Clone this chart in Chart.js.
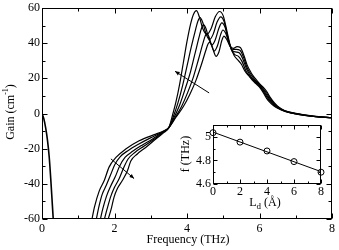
<!DOCTYPE html>
<html>
<head>
<meta charset="utf-8">
<script src="https://cdn.jsdelivr.net/npm/chart.js@4.4.1/dist/chart.umd.min.js"></script>
<style>
  body { margin: 0; background: #fff; }
  #wrap { position: relative; width: 339px; height: 250px; }
  #main { position: absolute; left: 0; top: 0; }
  #inset { position: absolute; left: 176px; top: 116px; }
</style>
</head>
<body>
<div id="wrap">
  <canvas id="main" width="339" height="250"></canvas>
  <canvas id="inset" width="160" height="100"></canvas>
</div>
<script>
// main panel: gain spectra for five values of L_d
const freqTicks = [0, 2, 4, 6, 8];
const freqMinor = [1, 3, 5, 7];
const gainTicks = [-60, -40, -20, 0, 20, 40, 60];
const gainMinor = [-50, -30, -10, 10, 30, 50];

// low-frequency branch, same for all curves
const lowBranch = [[0,0],[0.05,-3],[0.1,-8],[0.15,-15],[0.2,-25],[0.25,-40],[0.28,-50],[0.31,-60],[0.32,-63]];

// curves ordered from the highest first peak to the lowest
const gain0 = [[1.81,-61],[1.9,-55],[1.99,-47.4],[2.08,-42.7],[2.22,-38],[2.36,-32.4],[2.45,-27],[2.63,-23],[2.86,-19.3],[3.14,-14.5],[3.35,-11],
  [3.5,-8],[3.6,-1],[3.7,7],[3.8,17],[3.9,29],[4.0,41],[4.1,51],[4.18,56.5],[4.26,58.5],[4.34,55],[4.44,48],[4.55,45],[4.66,48],[4.78,55],[4.9,58],[5.0,55.5],
  [5.1,47],[5.2,38],[5.3,33],[5.4,30.5],[5.5,28],[5.6,24],[5.7,21.5],[5.8,19],[5.9,17],[6.0,15],[6.1,12],[6.2,8.5],[6.3,6],[6.4,4.3],[6.5,3],[6.7,1.2],[7.0,-0.3],[7.5,-1.7],[8.0,-2.4]];
const gain1 = [[1.71,-61],[1.8,-54],[1.9,-47],[2.0,-42],[2.13,-37],[2.25,-31],[2.37,-26],[2.57,-22],[2.82,-18.5],[3.1,-14.5],[3.33,-11],
  [3.5,-8],[3.62,-2],[3.75,6],[3.88,16],[4.0,27],[4.12,38],[4.24,48],[4.3,52.5],[4.36,54.5],[4.43,52],[4.53,45],[4.62,42],[4.72,45],[4.83,52],[4.93,55],[5.02,52.5],
  [5.12,44],[5.22,36.5],[5.32,33.5],[5.42,32.5],[5.52,29.5],[5.62,24.5],[5.7,22],[5.8,19.5],[5.9,17.5],[6.0,15.5],[6.1,12.8],[6.2,9.5],[6.3,6.8],[6.4,4.8],[6.5,3.3],[6.7,1.3],[7.0,-0.2],[7.5,-1.7],[8.0,-2.4]];
const gain2 = [[1.6,-61],[1.68,-54],[1.78,-47],[1.89,-41.5],[2.02,-36],[2.14,-30],[2.29,-25],[2.5,-21.5],[2.76,-18],[3.05,-14.5],[3.3,-11],
  [3.5,-8],[3.65,-2],[3.8,5],[3.95,14],[4.1,24],[4.22,34],[4.34,44],[4.4,48.5],[4.45,50.5],[4.52,48.5],[4.61,42],[4.69,39],[4.78,42],[4.88,48.5],[4.96,51.5],[5.05,49],
  [5.14,42],[5.24,36],[5.34,35],[5.44,34.5],[5.54,31],[5.64,25.5],[5.72,22.5],[5.8,20],[5.9,18],[6.0,16],[6.1,13.5],[6.2,10.5],[6.3,7.5],[6.4,5.3],[6.5,3.6],[6.7,1.4],[7.0,-0.1],[7.5,-1.6],[8.0,-2.4]];
const gain3 = [[1.49,-61],[1.57,-53],[1.66,-46],[1.77,-41],[1.89,-35],[2.01,-29],[2.16,-24.5],[2.38,-21],[2.66,-17.5],[2.98,-14],[3.28,-11],
  [3.5,-8],[3.68,-2],[3.85,4],[4.02,12],[4.18,21],[4.32,31],[4.44,40],[4.5,44],[4.54,45.5],[4.6,44],[4.68,38.5],[4.75,35.5],[4.84,38.5],[4.93,45],[4.99,47.5],[5.07,45.5],
  [5.16,40],[5.26,36.5],[5.36,36.5],[5.46,36],[5.56,32],[5.65,26.5],[5.74,23],[5.82,20.5],[5.9,18.5],[6.0,16.5],[6.1,14.2],[6.2,11.5],[6.3,8.3],[6.4,5.8],[6.5,3.9],[6.7,1.5],[7.0,0],[7.5,-1.6],[8.0,-2.4]];
const gain4 = [[1.37,-61],[1.45,-53],[1.58,-44],[1.72,-38],[1.85,-30.5],[2.04,-25],[2.31,-20.2],[2.68,-15.5],[3.14,-11.7],[3.35,-10],
  [3.5,-8],[3.7,-2],[3.9,4],[4.08,11],[4.25,19],[4.4,28],[4.52,36],[4.58,39.5],[4.62,40.5],[4.68,39],[4.75,34.5],[4.8,32.5],[4.88,35],[4.96,41.5],[5.02,44],
  [5.1,42],[5.18,38.5],[5.28,37],[5.38,38],[5.47,37.5],[5.57,33],[5.66,27.5],[5.76,23.5],[5.84,21],[5.92,19],[6.0,17],[6.1,15],[6.2,12.5],[6.3,9],[6.4,6.3],[6.5,4.2],[6.7,1.6],[7.0,0.1],[7.5,-1.5],[8.0,-2.4]];

// arrows (tail -> head), in data units
const arrowUp = [[4.61, 11.7], [3.67, 24]];
const arrowDown = [[1.9, -25.8], [2.54, -37]];

// inset: peak frequency vs L_d
const ldValues = [0, 2, 4, 6, 8];
const peakFreq = [5.035, 4.955, 4.88, 4.79, 4.70];
const fitLd = [0, 8];
const fitFreq = [5.04, 4.705];
const ldTicks = [0, 2, 4, 6, 8];
const ldMinor = [1, 3, 5, 7];
const fTicks = [4.6, 4.8, 5.0];
const fMinor = [4.7, 4.9, 5.1];

const serif = "'Liberation Serif', 'DejaVu Serif', serif";
const pts = arr => arr.map(p => ({ x: p[0], y: p[1] }));

const frameTicks = {
  id: "frameTicks",
  afterDraw(chart, args, o) {
    const { ctx, chartArea: a, scales } = chart;
    const L = Math.round(a.left) + 0.5, R = Math.round(a.right) - 0.5;
    const T = Math.round(a.top) + 0.5, B = Math.round(a.bottom) - 0.5;
    ctx.save();
    ctx.strokeStyle = "#000";
    ctx.lineWidth = 1;
    ctx.strokeRect(L, T, R - L, B - T);
    ctx.beginPath();
    const xt = (vals, len) => vals.forEach(v => {
      const px = Math.round(scales.x.getPixelForValue(v)) + 0.5;
      ctx.moveTo(px, B); ctx.lineTo(px, B - len);
      ctx.moveTo(px, T); ctx.lineTo(px, T + len);
    });
    const yt = (vals, len) => vals.forEach(v => {
      const py = Math.round(scales.y.getPixelForValue(v)) + 0.5;
      ctx.moveTo(L, py); ctx.lineTo(L + len, py);
      ctx.moveTo(R, py); ctx.lineTo(R - len, py);
    });
    xt(o.xMajor, o.major); xt(o.xMinor, o.minor);
    yt(o.yMajor, o.major); yt(o.yMinor, o.minor);
    ctx.stroke();
    ctx.restore();
  }
};

// draws label runs: [text, sizePx, dy]
function drawRuns(ctx, runs, cx, cy, rotate) {
  ctx.save();
  ctx.translate(cx, cy);
  if (rotate) ctx.rotate(-Math.PI / 2);
  ctx.fillStyle = "#000";
  ctx.textBaseline = "middle";
  ctx.textAlign = "left";
  let total = 0;
  runs.forEach(r => { ctx.font = r[1] + "px " + serif; total += ctx.measureText(r[0]).width; });
  let x = -total / 2;
  runs.forEach(r => {
    ctx.font = r[1] + "px " + serif;
    ctx.fillText(r[0], x, r[2]);
    x += ctx.measureText(r[0]).width;
  });
  ctx.restore();
}

const mainTitles = {
  id: "mainTitles",
  afterDraw(chart) {
    const ctx = chart.ctx;
    drawRuns(ctx, [["Frequency (THz)", 12, 0]], 188, 240, false);
    drawRuns(ctx, [["Gain (cm", 12, 0], ["-1", 8, -5], [")", 12, 0]], 11, 112, true);
    // arrows
    const { x, y } = chart.scales;
    [arrowUp, arrowDown].forEach(ar => {
      const x0 = x.getPixelForValue(ar[0][0]), y0 = y.getPixelForValue(ar[0][1]);
      const x1 = x.getPixelForValue(ar[1][0]), y1 = y.getPixelForValue(ar[1][1]);
      const ang = Math.atan2(y1 - y0, x1 - x0);
      ctx.save();
      ctx.strokeStyle = "#000"; ctx.fillStyle = "#000"; ctx.lineWidth = 1;
      ctx.beginPath(); ctx.moveTo(x0, y0); ctx.lineTo(x1, y1); ctx.stroke();
      ctx.beginPath();
      ctx.moveTo(x1, y1);
      ctx.lineTo(x1 - 5 * Math.cos(ang - 0.4), y1 - 5 * Math.sin(ang - 0.4));
      ctx.lineTo(x1 - 5 * Math.cos(ang + 0.4), y1 - 5 * Math.sin(ang + 0.4));
      ctx.closePath(); ctx.fill();
      ctx.restore();
    });
  }
};

const insetTitles = {
  id: "insetTitles",
  beforeDatasetsDraw(chart) {
    const { ctx, chartArea: a } = chart;
    ctx.save();
    ctx.fillStyle = "#fff";
    ctx.fillRect(a.left, a.top, a.right - a.left, a.bottom - a.top);
    ctx.restore();
  },
  afterDraw(chart) {
    const ctx = chart.ctx;
    drawRuns(ctx, [["L", 12, 0], ["d", 9, 4], [" (Å)", 12, 0]], 89, 87, false);
    drawRuns(ctx, [["f (THz)", 12, 0]], 9.5, 38, true);
  }
};

const lineStyle = { showLine: true, pointRadius: 0, borderColor: "#000", borderWidth: 1.2, cubicInterpolationMode: "monotone", fill: false };
const tickFont = { family: serif, size: 12, lineHeight: 1 };
const noGrid = { display: false, drawTicks: false, tickLength: 0 };

new Chart(document.getElementById("main"), {
  type: "scatter",
  data: {
    datasets: [
      { ...lineStyle, data: pts(lowBranch), borderWidth: 1.6 },
      { ...lineStyle, data: pts(gain0) },
      { ...lineStyle, data: pts(gain1) },
      { ...lineStyle, data: pts(gain2) },
      { ...lineStyle, data: pts(gain3) },
      { ...lineStyle, data: pts(gain4) }
    ]
  },
  options: {
    responsive: false,
    animation: false,
    layout: { padding: { left: 0, right: 6, top: 6, bottom: 0 } },
    plugins: {
      legend: { display: false },
      tooltip: { enabled: false },
      frameTicks: { xMajor: freqTicks, xMinor: freqMinor, yMajor: gainTicks, yMinor: gainMinor, major: 5, minor: 3 }
    },
    scales: {
      x: {
        type: "linear", min: 0, max: 8,
        afterBuildTicks: s => { s.ticks = freqTicks.map(v => ({ value: v })); },
        afterFit: s => { s.height = 31; },
        grid: noGrid, border: { display: false },
        ticks: { font: tickFont, color: "#000", padding: 4, maxRotation: 0 }
      },
      y: {
        type: "linear", min: -60, max: 60,
        afterBuildTicks: s => { s.ticks = gainTicks.map(v => ({ value: v })); },
        afterFit: s => { s.width = 42; },
        grid: noGrid, border: { display: false },
        ticks: { font: tickFont, color: "#000", padding: 2 }
      }
    }
  },
  plugins: [frameTicks, mainTitles]
});

new Chart(document.getElementById("inset"), {
  type: "scatter",
  data: {
    datasets: [
      { data: fitLd.map((v, i) => ({ x: v, y: fitFreq[i] })), showLine: true, pointRadius: 0, borderColor: "#000", borderWidth: 1 },
      { data: ldValues.map((v, i) => ({ x: v, y: peakFreq[i] })), showLine: false, pointRadius: 3, pointBorderWidth: 1,
        pointBorderColor: "#000", pointBackgroundColor: "rgba(0,0,0,0)", clip: false }
    ]
  },
  options: {
    responsive: false,
    animation: false,
    layout: { padding: { left: 0, right: 15, top: 9, bottom: 0 } },
    plugins: {
      legend: { display: false },
      tooltip: { enabled: false },
      frameTicks: { xMajor: ldTicks, xMinor: ldMinor, yMajor: fTicks, yMinor: fMinor, major: 4, minor: 2 }
    },
    scales: {
      x: {
        type: "linear", min: 0, max: 8,
        afterBuildTicks: s => { s.ticks = ldTicks.map(v => ({ value: v })); },
        afterFit: s => { s.height = 32; },
        grid: noGrid, border: { display: false },
        ticks: { font: tickFont, color: "#000", padding: 2, maxRotation: 0 }
      },
      y: {
        type: "linear", min: 4.6, max: 5.1,
        afterBuildTicks: s => { s.ticks = fTicks.map(v => ({ value: v })); },
        afterFit: s => { s.width = 37; },
        grid: noGrid, border: { display: false },
        ticks: { font: tickFont, color: "#000", padding: 2, callback: v => String(v) }
      }
    }
  },
  plugins: [frameTicks, insetTitles]
});
</script>
</body>
</html>
